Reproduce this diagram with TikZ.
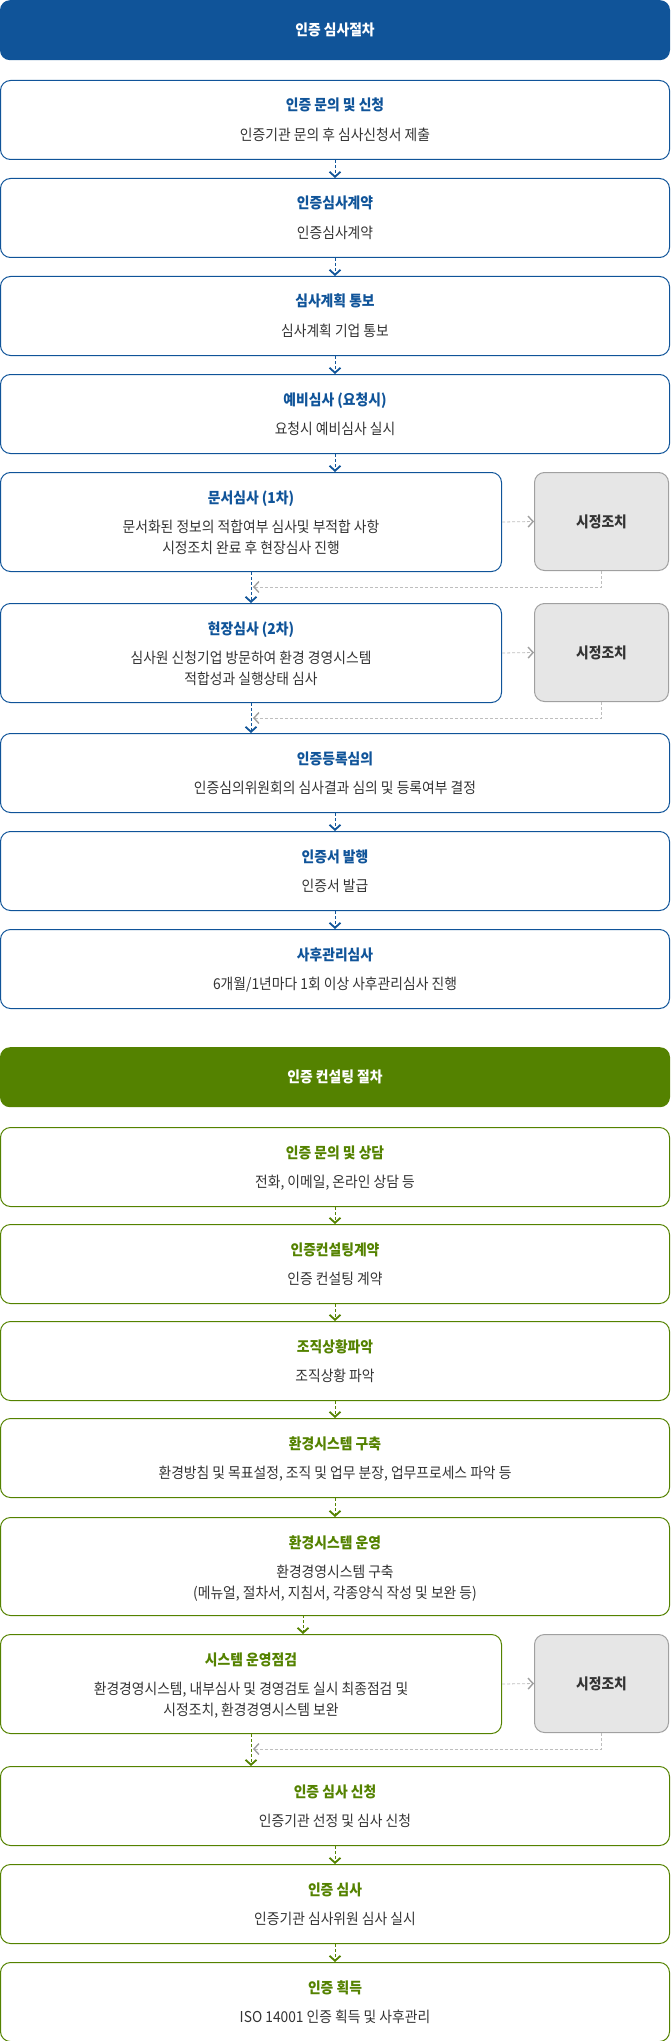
\documentclass[tikz,border=0pt]{standalone}
\usepackage{fontspec}
\setmainfont{Noto Sans CJK KR}[FakeStretch=0.92]
\usepackage{xcolor}
\usetikzlibrary{arrows.meta}
\definecolor{auditblue}{RGB}{16,84,153}
\definecolor{consultgreen}{RGB}{84,130,0}
\definecolor{bodygray}{RGB}{51,51,51}
\definecolor{fixfill}{RGB}{230,230,230}
\definecolor{fixline}{RGB}{160,160,160}
\definecolor{backline}{RGB}{190,190,190}

\begin{document}
\begin{tikzpicture}[x=1pt,y=-1pt,
	head/.style={rounded corners=10pt, minimum width=670pt, minimum height=60pt, inner sep=0pt, anchor=north, text=white, font=\fontsize{15}{18}\selectfont\bfseries},
	bluebox/.style={draw=auditblue, line width=1pt, rounded corners=10pt, minimum width=669pt, minimum height=79pt, inner sep=0pt, anchor=north},
	greenbox/.style={bluebox, draw=consultgreen},
	halfbox/.style={minimum width=501pt, minimum height=99pt},
	fixbox/.style={draw=fixline, fill=fixfill, line width=1pt, rounded corners=10pt, minimum width=134pt, minimum height=98pt, inner sep=0pt, anchor=north, text=bodygray, font=\fontsize{15}{18}\selectfont\bfseries},
	bluetitle/.style={anchor=base, text=auditblue, font=\fontsize{15}{18}\selectfont\bfseries},
	greentitle/.style={bluetitle, text=consultgreen},
	body/.style={anchor=base, text=bodygray, font=\fontsize{15}{18}\selectfont},
	bluestep/.style={draw=auditblue, line width=0.8pt, dash pattern=on 3pt off 2pt, -{Straight Barb[length=5pt,width=11pt,line width=1.8pt]}},
	greenstep/.style={bluestep, draw=consultgreen},
	fixstep/.style={draw=backline, line width=0.8pt, dash pattern=on 3pt off 2pt, -{Straight Barb[length=5pt,width=11pt,line width=1.4pt,color=fixline]}}]
	\useasboundingbox (0,0) rectangle (670,2041);

	% 인증 심사절차
	\node[head, fill=auditblue] (h1) at (335,0) {인증 심사절차};
	\node[bluebox] (b1) at (335,80) {};
	\node[bluetitle] (b1t) at (335,111) {인증 문의 및 신청};
	\node[body] (b1s) at (335,140.5) {인증기관 문의 후 심사신청서 제출};
	\node[bluebox] (b2) at (335,178) {};
	\node[bluetitle] (b2t) at (335,209) {인증심사계약};
	\node[body] (b2s) at (335,238.5) {인증심사계약};
	\node[bluebox] (b3) at (335,276) {};
	\node[bluetitle] (b3t) at (335,307) {심사계획 통보};
	\node[body] (b3s) at (335,336.5) {심사계획 기업 통보};
	\node[bluebox] (b4) at (335,374) {};
	\node[bluetitle] (b4t) at (335,405) {예비심사 (요청시)};
	\node[body] (b4s) at (335,434.5) {요청시 예비심사 실시};
	\node[bluebox, halfbox] (b5) at (251,472) {};
	\node[bluetitle] (b5t) at (251,503) {문서심사 (1차)};
	\node[body] (b5s) at (251,532.5) {문서화된 정보의 적합여부 심사및 부적합 사항};
	\node[body] (b5u) at (251,553.5) {시정조치 완료 후 현장심사 진행};
	\node[fixbox] (s1) at (601.5,472) {시정조치};
	\node[bluebox, halfbox] (b6) at (251,603) {};
	\node[bluetitle] (b6t) at (251,634) {현장심사 (2차)};
	\node[body] (b6s) at (251,663.5) {심사원 신청기업 방문하여 환경 경영시스템};
	\node[body] (b6u) at (251,684.5) {적합성과 실행상태 심사};
	\node[fixbox] (s2) at (601.5,603) {시정조치};
	\node[bluebox] (b7) at (335,733) {};
	\node[bluetitle] (b7t) at (335,764) {인증등록심의};
	\node[body] (b7s) at (335,793.5) {인증심의위원회의 심사결과 심의 및 등록여부 결정};
	\node[bluebox] (b8) at (335,831) {};
	\node[bluetitle] (b8t) at (335,862) {인증서 발행};
	\node[body] (b8s) at (335,891.5) {인증서 발급};
	\node[bluebox] (b9) at (335,929) {};
	\node[bluetitle] (b9t) at (335,960) {사후관리심사};
	\node[body] (b9s) at (335,989.5) {6개월/1년마다 1회 이상 사후관리심사 진행};

	\coordinate (r1) at (253,587);
	\coordinate (r2) at (253,718);
	\draw[bluestep] (b1) -- (b2);
	\draw[bluestep] (b2) -- (b3);
	\draw[bluestep] (b3) -- (b4);
	\draw[bluestep] (b4.south) -- (b4.south |- b5.north);
	\draw[bluestep] (b5) -- (b6);
	\draw[bluestep] (b6.south) -- (b6.south |- b7.north);
	\draw[bluestep] (b7) -- (b8);
	\draw[bluestep] (b8) -- (b9);
	\draw[fixstep] (b5.east) -- (s1.west);
	\draw[fixstep] (s1.south) |- (r1);
	\draw[fixstep] (b6.east) -- (s2.west);
	\draw[fixstep] (s2.south) |- (r2);

	% 인증 컨설팅 절차
	\node[head, fill=consultgreen] (h2) at (335,1047) {인증 컨설팅 절차};
	\node[greenbox] (g1) at (335,1127) {};
	\node[greentitle] (g1t) at (335,1158) {인증 문의 및 상담};
	\node[body] (g1s) at (335,1187.5) {전화, 이메일, 온라인 상담 등};
	\node[greenbox] (g2) at (335,1224) {};
	\node[greentitle] (g2t) at (335,1255) {인증컨설팅계약};
	\node[body] (g2s) at (335,1284.5) {인증 컨설팅 계약};
	\node[greenbox] (g3) at (335,1321) {};
	\node[greentitle] (g3t) at (335,1352) {조직상황파악};
	\node[body] (g3s) at (335,1381.5) {조직상황 파악};
	\node[greenbox] (g4) at (335,1418) {};
	\node[greentitle] (g4t) at (335,1449) {환경시스템 구축};
	\node[body] (g4s) at (335,1478.5) {환경방침 및 목표설정, 조직 및 업무 분장, 업무프로세스 파악 등};
	\node[greenbox, minimum height=98pt] (g5) at (335,1517) {};
	\node[greentitle] (g5t) at (335,1548) {환경시스템 운영};
	\node[body] (g5s) at (335,1577.5) {환경경영시스템 구축};
	\node[body] (g5u) at (335,1598.5) {(메뉴얼, 절차서, 지침서, 각종양식 작성 및 보완 등)};
	\node[greenbox, halfbox] (g6) at (251,1634) {};
	\node[greentitle] (g6t) at (251,1665) {시스템 운영점검};
	\node[body] (g6s) at (251,1694.5) {환경경영시스템, 내부심사 및 경영검토 실시 최종점검 및};
	\node[body] (g6u) at (251,1715.5) {시정조치, 환경경영시스템 보완};
	\node[fixbox] (s3) at (601.5,1634) {시정조치};
	\node[greenbox] (g7) at (335,1766) {};
	\node[greentitle] (g7t) at (335,1797) {인증 심사 신청};
	\node[body] (g7s) at (335,1826.5) {인증기관 선정 및 심사 신청};
	\node[greenbox] (g8) at (335,1864) {};
	\node[greentitle] (g8t) at (335,1895) {인증 심사};
	\node[body] (g8s) at (335,1924.5) {인증기관 심사위원 심사 실시};
	\node[greenbox] (g9) at (335,1962) {};
	\node[greentitle] (g9t) at (335,1993) {인증 획득};
	\node[body] (g9s) at (335,2022.5) {ISO 14001 인증 획득 및 사후관리};

	\coordinate (g56) at (303,1615);
	\coordinate (r3) at (253,1749);
	\draw[greenstep] (g1) -- (g2);
	\draw[greenstep] (g2) -- (g3);
	\draw[greenstep] (g3) -- (g4);
	\draw[greenstep] (g4) -- (g5);
	\draw[greenstep] (g56) -- (g56 |- g6.north);
	\draw[greenstep] (g6.south) -- (g6.south |- g7.north);
	\draw[greenstep] (g7) -- (g8);
	\draw[greenstep] (g8) -- (g9);
	\draw[fixstep] (g6.east) -- (s3.west);
	\draw[fixstep] (s3.south) |- (r3);
\end{tikzpicture}
\end{document}
